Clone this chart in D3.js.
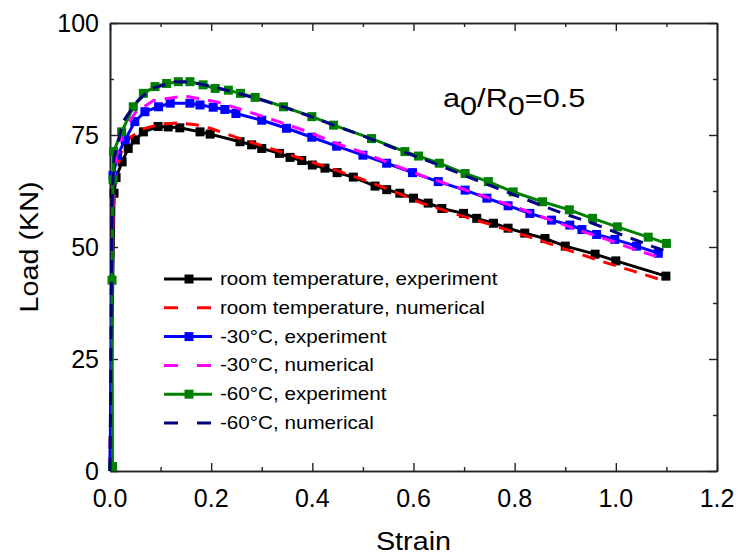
<!DOCTYPE html>
<html><head><meta charset="utf-8">
<script src="https://cdn.jsdelivr.net/npm/d3@7"></script>
<style>body{margin:0;background:#fff}svg{display:block}text{font-family:"Liberation Sans",Arial,sans-serif;fill:#000}</style>
</head><body><svg id="c" width="739" height="555"></svg>
<script>
// ---- data (strain, load kN) ----
const roomExp = [[0,0],[0.008,62],[0.012,65.5],[0.024,69],[0.036,72],[0.05,73.9],[0.066,75.7],[0.095,76.9],[0.115,76.8],[0.138,76.6],[0.178,75.7],[0.198,75.2],[0.257,73.5],[0.28,72.8],[0.30,72.0],[0.335,70.9],[0.356,70.0],[0.379,69.3],[0.40,68.3],[0.425,67.6],[0.449,66.6],[0.481,65.6],[0.524,63.6],[0.547,62.8],[0.573,62.0],[0.6,60.9],[0.629,59.8],[0.656,58.6],[0.699,57.5],[0.725,56.4],[0.758,55.3],[0.787,54.2],[0.82,53.1],[0.86,51.9],[0.9,50.2],[0.959,48.4],[1.0,46.9],[1.099,43.5]];
const roomNum = [[0,0],[0.003,30],[0.006,58],[0.012,66],[0.023,71.6],[0.04,74.5],[0.069,76.5],[0.1,77.4],[0.134,77.7],[0.17,77.3],[0.198,76.5],[0.254,74.3],[0.33,71.5],[0.382,69.6],[0.435,67.6],[0.494,65.3],[0.55,62.9],[0.616,59.8],[0.685,57.3],[0.75,55.1],[0.797,53.4],[0.86,51.1],[0.916,48.9],[0.975,46.7],[1.035,44.6],[1.1,42.3]];
const m30Exp = [[0,0],[0.006,66],[0.015,70.5],[0.03,73.9],[0.049,78],[0.069,80.2],[0.096,81.3],[0.119,82.1],[0.158,82.1],[0.178,81.7],[0.204,81.2],[0.227,80.7],[0.249,79.8],[0.30,78.3],[0.349,76.5],[0.399,74.5],[0.448,72.5],[0.5,70.5],[0.547,68.7],[0.598,66.6],[0.649,64.6],[0.702,62.7],[0.745,60.9],[0.787,59.2],[0.83,57.5],[0.873,56.0],[0.909,54.9],[0.933,53.9],[0.962,52.8],[0.998,51.7],[1.041,50.2],[1.084,48.6]];
const m30Num = [[0,0],[0.003,35],[0.006,62],[0.012,70],[0.03,76.5],[0.05,80],[0.086,82.7],[0.148,83.7],[0.211,82.4],[0.273,80.2],[0.333,78.0],[0.392,75.7],[0.448,73.1],[0.507,70.8],[0.557,68.5],[0.619,65.8],[0.685,63.4],[0.745,61.1],[0.81,58.6],[0.86,56.5],[0.923,53.9],[0.982,51.7],[1.041,49.3],[1.094,47.4]];
const m60Exp = [[0,0],[0.005,1],[0.004,42.6],[0.006,65],[0.007,71.3],[0.023,75.7],[0.046,81.3],[0.066,84.3],[0.089,85.8],[0.112,86.5],[0.135,86.9],[0.158,86.9],[0.184,86.2],[0.208,85.4],[0.234,85.0],[0.258,84.3],[0.287,83.4],[0.343,81.3],[0.399,79.1],[0.442,77.2],[0.517,74.2],[0.583,71.3],[0.61,70.3],[0.651,68.7],[0.702,66.4],[0.748,64.6],[0.797,62.3],[0.855,60.1],[0.908,58.3],[0.954,56.4],[1.003,54.5],[1.064,52.2],[1.1,50.8]];
const m60Num = [[0,0],[0.002,30],[0.004,60],[0.008,70],[0.026,78],[0.05,82],[0.08,85.3],[0.128,86.9],[0.16,86.8],[0.2,85.9],[0.25,84.4],[0.3,82.8],[0.35,81.0],[0.4,79.0],[0.45,76.9],[0.5,74.8],[0.55,72.6],[0.6,70.4],[0.65,68.3],[0.7,66.0],[0.75,63.8],[0.8,61.6],[0.85,59.4],[0.893,57.6],[0.954,55.3],[1.012,52.7],[1.073,50.1],[1.1,49.1]];
const seriesNames = ["room temperature, experiment","room temperature, numerical","-30°C, experiment","-30°C, numerical","-60°C, experiment","-60°C, numerical"];
const seriesColors = ["#000000","#ff0000","#0000ff","#ff00ff","#008000","#000080"];
const seriesData = [roomExp, roomNum, m30Exp, m30Num, m60Exp, m60Num];
const seriesKind = ["exp","num","exp","num","exp","num"];
const xTicks = [0,0.2,0.4,0.6,0.8,1.0,1.2];
const xMinor = [0.1,0.3,0.5,0.7,0.9,1.1];
const yTicks = [0,25,50,75,100];
const yMinor = [12.5,37.5,62.5,87.5];

const svg = d3.select("#c");
const L = 110, R = 717, T = 23, B = 471;
const x = d3.scaleLinear().domain([0,1.2]).range([L,R]);
const y = d3.scaleLinear().domain([0,100]).range([B,T]);
const axCol = "#222";

function label(g, tx, ty, str, size, anchor, sx, rot){
  return g.append("text").attr("transform",`translate(${tx},${ty})${rot?` rotate(${rot})`:""} scale(${sx},1)`)
    .attr("font-size",size).attr("text-anchor",anchor||"start").text(str);
}

function drawAxis(axisFn, scale, ticks, len, tr){
  const g = svg.append("g").attr("transform",tr).call(axisFn(scale).tickValues(ticks).tickSizeInner(-len).tickSizeOuter(0).tickFormat(""));
  g.select(".domain").attr("stroke",axCol).attr("stroke-width",1.6);
  g.selectAll(".tick line").attr("stroke",axCol).attr("stroke-width",1.4);
  g.selectAll(".tick text").remove();
  return g;
}
drawAxis(d3.axisBottom, x, xTicks, 8, `translate(0,${B})`);
drawAxis(d3.axisBottom, x, xMinor, 4, `translate(0,${B})`);
drawAxis(d3.axisTop, x, xTicks, 8, `translate(0,${T})`);
drawAxis(d3.axisTop, x, xMinor, 4, `translate(0,${T})`);
drawAxis(d3.axisLeft, y, yTicks, 8, `translate(${L},0)`);
drawAxis(d3.axisLeft, y, yMinor, 4, `translate(${L},0)`);
drawAxis(d3.axisRight, y, yTicks, 8, `translate(${R},0)`);
drawAxis(d3.axisRight, y, yMinor, 4, `translate(${R},0)`);

const lab = svg.append("g");
xTicks.forEach(v=>label(lab, x(v), B+36, d3.format(".1f")(v), 25, "middle", 1.0));
yTicks.forEach(v=>label(lab, L-11, y(v)+9, String(v), 25, "end", 1.0));
label(lab, x(0.6), B+79, "Strain", 25, "middle", 1.15);
label(lab, 38, (T+B)/2, "Load (KN)", 25, "middle", 1.15, -90);

// annotation
const ann = svg.append("text").attr("transform",`translate(443,107) scale(1.18,1)`).attr("font-size",26);
ann.append("tspan").text("a");
ann.append("tspan").attr("dy",8).text("0");
ann.append("tspan").attr("dy",-8).text("/R");
ann.append("tspan").attr("dy",8).text("0");
ann.append("tspan").attr("dy",-8).text("=0.5");

// series
const line = d3.line().x(d=>x(d[0])).y(d=>y(d[1]));
const ms = 9;
seriesData.forEach((data,i)=>{
  const col = seriesColors[i];
  const g = svg.append("g");
  if(seriesKind[i]==="exp"){
    g.append("path").attr("d",line(data)).attr("fill","none").attr("stroke",col).attr("stroke-width",3);
    g.selectAll("rect").data(data.slice(1)).join("rect")
      .attr("x",d=>x(d[0])-ms/2).attr("y",d=>y(d[1])-ms/2).attr("width",ms).attr("height",ms).attr("fill",col);
  } else {
    g.append("path").attr("d",line(data)).attr("fill","none").attr("stroke",col).attr("stroke-width",3).attr("stroke-dasharray","13,9");
  }
});

// legend
const lg = svg.append("g");
seriesNames.forEach((nm,i)=>{
  const yy = 279 + i*28.8;
  const col = seriesColors[i];
  if(seriesKind[i]==="exp"){
    lg.append("line").attr("x1",164).attr("x2",212).attr("y1",yy).attr("y2",yy).attr("stroke",col).attr("stroke-width",3);
    lg.append("rect").attr("x",189-ms/2).attr("y",yy-ms/2).attr("width",ms).attr("height",ms).attr("fill",col);
  } else {
    lg.append("line").attr("x1",164).attr("x2",212).attr("y1",yy).attr("y2",yy).attr("stroke",col).attr("stroke-width",3).attr("stroke-dasharray","14,19");
  }
  label(lg, 220, yy+6, nm, 17.5, "start", 1.18);
});
</script></body></html>
